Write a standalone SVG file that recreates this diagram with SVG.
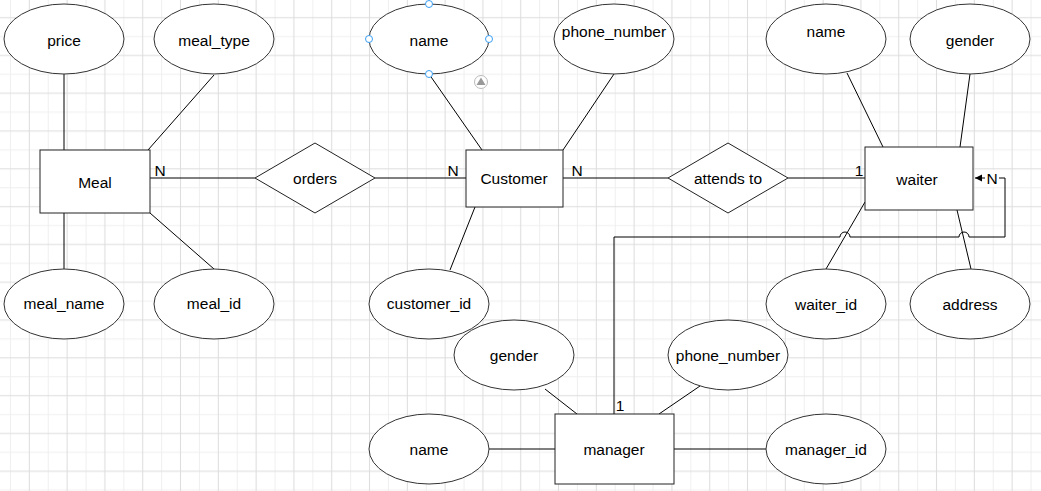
<svg xmlns="http://www.w3.org/2000/svg" width="1041" height="491" viewBox="0 0 1041 491">
  <defs>
    <pattern id="grid" patternUnits="userSpaceOnUse" x="0" y="0" width="37.8" height="37.8">
      <line x1="10.4" y1="0" x2="10.4" y2="37.8" stroke="#efefef" stroke-width="1"/>
      <line x1="0" y1="36.6" x2="37.8" y2="36.6" stroke="#efefef" stroke-width="1"/>
      <line x1="29.3" y1="0" x2="29.3" y2="37.8" stroke="#dcdcdc" stroke-width="1"/>
      <line x1="0" y1="17.7" x2="37.8" y2="17.7" stroke="#dcdcdc" stroke-width="1"/>
    </pattern>
    <marker id="arrow" markerWidth="8" markerHeight="8" refX="7" refY="4" orient="auto" markerUnits="userSpaceOnUse">
      <path d="M0,0.5 L7,4 L0,7.5 Z" fill="#000"/>
    </marker>
  </defs>
  <style>
    .attr { fill: #fff; stroke: #333; stroke-width: 1; }
    .ent { fill: #fff; stroke: #222; stroke-width: 1; }
    .rel { fill: #fff; stroke: #222; stroke-width: 1; }
    .t { font-family: "Liberation Sans", Arial, sans-serif; font-size: 15.5px; fill: #000; text-anchor: middle; }
    .lbl { font-family: "Liberation Sans", Arial, sans-serif; font-size: 15.5px; fill: #000; text-anchor: middle; }
    .c { stroke: #000; stroke-width: 1; fill: none; }
    .h { fill: #fff; stroke: #3a9ff5; stroke-width: 1; }
  </style>

  <rect width="1041" height="491" fill="#fff"/>
  <rect width="1041" height="491" fill="url(#grid)"/>

  <!-- connectors -->
  <g id="connectors">
    <line class="c" x1="64" y1="74" x2="64" y2="150"/>
    <line class="c" x1="214" y1="75" x2="148" y2="150"/>
    <line class="c" x1="64" y1="269" x2="64" y2="213"/>
    <line class="c" x1="150" y1="213" x2="214" y2="269"/>
    <line class="c" x1="150" y1="178" x2="255" y2="178"/>
    <line class="c" x1="375" y1="178" x2="466" y2="178"/>
    <line class="c" x1="429" y1="74" x2="482" y2="150"/>
    <line class="c" x1="614" y1="74" x2="563" y2="150"/>
    <line class="c" x1="475" y1="207" x2="450" y2="270"/>
    <line class="c" x1="563" y1="178" x2="668" y2="178"/>
    <line class="c" x1="788" y1="178" x2="865" y2="178"/>
    <line class="c" x1="847" y1="73" x2="883" y2="147"/>
    <line class="c" x1="970" y1="74" x2="960" y2="147"/>
    <line class="c" x1="865" y1="202" x2="826" y2="269"/>
    <line class="c" x1="957" y1="210" x2="971" y2="269"/>
    <line class="c" x1="545" y1="389" x2="577" y2="414"/>
    <line class="c" x1="700" y1="386" x2="659" y2="414"/>
    <line class="c" x1="489" y1="449" x2="555" y2="449"/>
    <line class="c" x1="674" y1="449" x2="766" y2="449"/>
    <!-- manager supervises waiter, hopping over crossing lines -->
    <path class="c" d="M614,414 V237 H840 A5,5 0 0 1 850,237 H959 A5,5 0 0 1 969,237 H1005 V178 H975" marker-end="url(#arrow)"/>
    <rect x="985" y="170" width="14" height="17" fill="#fff"/>
    <text class="lbl" x="160" y="176">N</text>
    <text class="lbl" x="453" y="176">N</text>
    <text class="lbl" x="577" y="176">N</text>
    <text class="lbl" x="859" y="176">1</text>
    <text class="lbl" x="992" y="184">N</text>
    <text class="lbl" x="620" y="411">1</text>
  </g>

  <!-- entities -->
  <g id="meal"><rect class="ent" x="40" y="150" width="110" height="63"/><text class="t" x="95" y="188">Meal</text></g>
  <g id="customer"><rect class="ent" x="466" y="150" width="97" height="57"/><text class="t" x="514" y="184">Customer</text></g>
  <g id="waiter"><rect class="ent" x="865" y="147" width="108" height="63"/><text class="t" x="917" y="185">waiter</text></g>
  <g id="manager"><rect class="ent" x="555" y="414" width="119" height="70"/><text class="t" x="614" y="455">manager</text></g>

  <!-- relationships -->
  <g id="orders"><polygon class="rel" points="255,178 315,143 375,178 315,213"/><text class="t" x="315" y="184">orders</text></g>
  <g id="attends-to"><polygon class="rel" points="668,178 728,143 788,178 728,213"/><text class="t" x="728" y="184">attends to</text></g>

  <!-- attributes -->
  <g id="meal-price"><ellipse class="attr" cx="64" cy="39" rx="60" ry="35"/><text class="t" x="64" y="46">price</text></g>
  <g id="meal-type"><ellipse class="attr" cx="214" cy="39" rx="60" ry="35"/><text class="t" x="214" y="46">meal_type</text></g>
  <g id="meal-name"><ellipse class="attr" cx="64" cy="304" rx="60" ry="35"/><text class="t" x="64" y="309">meal_name</text></g>
  <g id="meal-id"><ellipse class="attr" cx="214" cy="304" rx="60" ry="35"/><text class="t" x="214" y="309">meal_id</text></g>

  <g id="customer-name"><ellipse class="attr" cx="429" cy="39" rx="60" ry="35"/><text class="t" x="429" y="46">name</text></g>
  <g id="customer-phone"><ellipse class="attr" cx="614" cy="39" rx="60" ry="35"/><text class="t" x="614" y="37">phone_number</text></g>
  <g id="customer-id"><ellipse class="attr" cx="429" cy="304" rx="60" ry="35"/><text class="t" x="429" y="309">customer_id</text></g>

  <g id="waiter-name"><ellipse class="attr" cx="826" cy="39" rx="60" ry="35"/><text class="t" x="826" y="37">name</text></g>
  <g id="waiter-gender"><ellipse class="attr" cx="970" cy="39" rx="60" ry="35"/><text class="t" x="970" y="46">gender</text></g>
  <g id="waiter-id"><ellipse class="attr" cx="826" cy="304" rx="60" ry="35"/><text class="t" x="826" y="310">waiter_id</text></g>
  <g id="waiter-address"><ellipse class="attr" cx="970" cy="304" rx="60" ry="35"/><text class="t" x="970" y="310">address</text></g>

  <g id="manager-gender"><ellipse class="attr" cx="514" cy="355" rx="60" ry="35"/><text class="t" x="514" y="361">gender</text></g>
  <g id="manager-phone"><ellipse class="attr" cx="728" cy="355" rx="60" ry="35"/><text class="t" x="728" y="361">phone_number</text></g>
  <g id="manager-name"><ellipse class="attr" cx="429" cy="449" rx="60" ry="35"/><text class="t" x="429" y="455">name</text></g>
  <g id="manager-id"><ellipse class="attr" cx="826" cy="449" rx="60" ry="35"/><text class="t" x="826" y="455">manager_id</text></g>

  <!-- selection handles on the customer name attribute -->
  <g id="selection">
    <circle class="h" cx="429" cy="4" r="3.5"/>
    <circle class="h" cx="369" cy="39" r="3.5"/>
    <circle class="h" cx="489" cy="39" r="3.5"/>
    <circle class="h" cx="429" cy="74" r="3.5"/>
    <circle cx="481" cy="82" r="6.5" fill="#fff" stroke="#bbb" stroke-width="1"/>
    <polygon points="481,77.5 485.5,85 476.5,85" fill="#999"/>
  </g>
</svg>
